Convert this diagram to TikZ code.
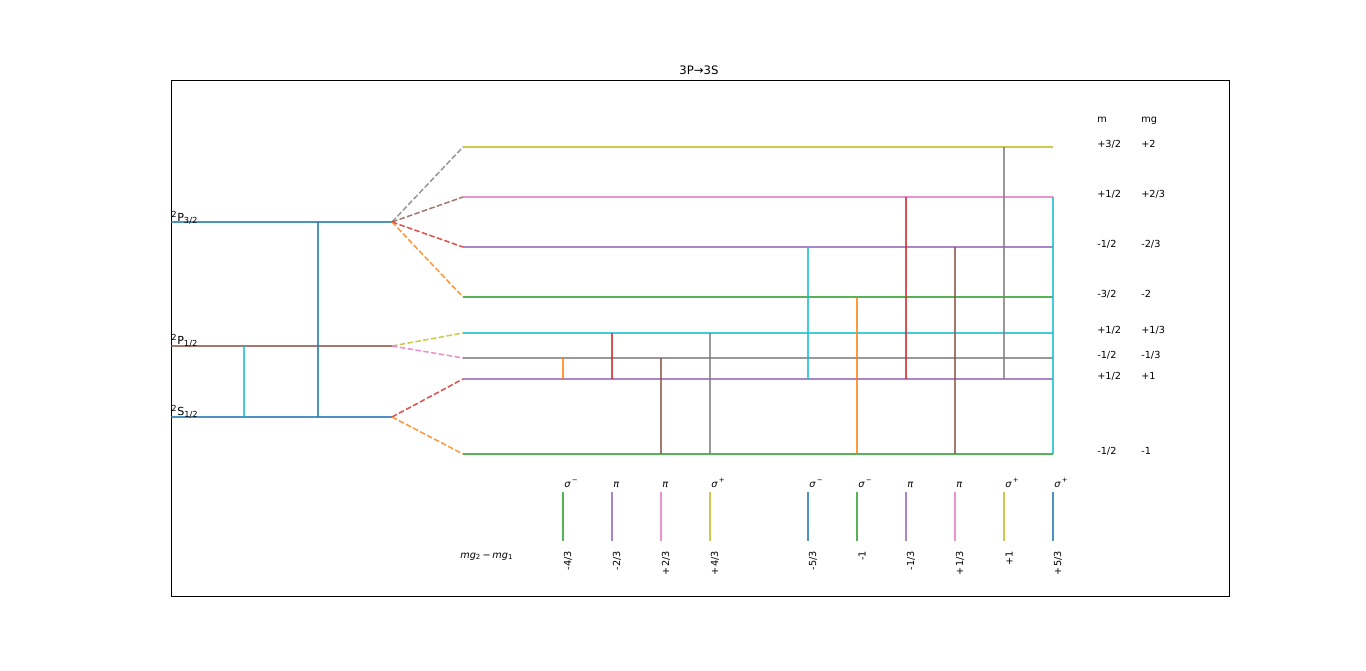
\documentclass[tikz,border=0pt]{standalone}
\usepackage{fontspec}
\setmainfont{DejaVu Sans}
\usepackage{xcolor}
\definecolor{tabblue}{HTML}{1F77B4}
\definecolor{taborange}{HTML}{FF7F0E}
\definecolor{tabgreen}{HTML}{2CA02C}
\definecolor{tabred}{HTML}{D62728}
\definecolor{tabpurple}{HTML}{9467BD}
\definecolor{tabbrown}{HTML}{8C564B}
\definecolor{tabpink}{HTML}{E377C2}
\definecolor{tabgray}{HTML}{7F7F7F}
\definecolor{tabolive}{HTML}{BCBD22}
\definecolor{tabcyan}{HTML}{17BECF}
\usepackage{tikz}

\begin{document}
\begin{tikzpicture}[x=0.72pt,y=-0.72pt,
level/.style={line width=1.1pt,draw opacity=.8},
split/.style={line width=1.1pt,draw opacity=.8,dash pattern=on 4pt off 1.7pt},
trans/.style={line width=1.1pt,draw opacity=.8},
lab/.style={font=\fontsize{7}{8}\selectfont,inner sep=0pt,anchor=base west},
vlab/.style={font=\fontsize{7}{8}\selectfont,inner sep=0pt,rotate=90,anchor=east},
term/.style={font=\fontsize{8}{9}\selectfont,inner sep=0pt,anchor=base west}]
\useasboundingbox (0,0) rectangle (1366,670);
\draw[line width=0.55pt] (171,80) rectangle (1229,596);
\node[font=\fontsize{8.4}{10}\selectfont,inner sep=0pt,anchor=base] (title) at (699,74) {3P→3S};
% fine structure levels
\coordinate (P32a) at (171,222); \coordinate (P32b) at (392,222);
\coordinate (P12a) at (171,346); \coordinate (P12b) at (392,346);
\coordinate (S12a) at (171,417); \coordinate (S12b) at (392,417);
\coordinate (k1) at (318,222); \coordinate (k2) at (318,417);
\coordinate (k3) at (244,346); \coordinate (k4) at (244,417);
\draw[level,tabblue] (P32a)--(P32b);
\draw[level,tabbrown] (P12a)--(P12b);
\draw[level,tabblue] (S12a)--(S12b);
\draw[trans,tabblue] (k1)--(k2);
\draw[trans,tabcyan] (k3)--(k4);
\node[term] (tP32) at (171,221) {\textsuperscript{2}P\textsubscript{3/2}};
\node[term] (tP12) at (171,344.5) {\textsuperscript{2}P\textsubscript{1/2}};
\node[term] (tS12) at (171,415.5) {\textsuperscript{2}S\textsubscript{1/2}};
% Zeeman sublevels
\foreach \n/\y/\c/\m/\g in {1/147/tabolive/{+3/2}/{+2},2/197/tabpink/{+1/2}/{+2/3},
  3/247/tabpurple/{-1/2}/{-2/3},4/297/tabgreen/{-3/2}/{-2},5/333/tabcyan/{+1/2}/{+1/3},
  6/358/tabgray/{-1/2}/{-1/3},7/379/tabpurple/{+1/2}/{+1},8/454/tabgreen/{-1/2}/{-1}}{
  \coordinate (w\n) at (463,\y); \coordinate (e\n) at (1053,\y);
  \draw[level,\c] (w\n)--(e\n);
  \node[lab] (m\n) at (1097,\y) {\m};
  \node[lab] (g\n) at (1141,\y) {\g};
}
\node[lab] (mhead) at (1097,122) {m};
\node[lab] (ghead) at (1141,122) {mg};
\draw[split,tabgray] (P32b)--(w1);
\draw[split,tabbrown] (P32b)--(w2);
\draw[split,tabred] (P32b)--(w3);
\draw[split,taborange] (P32b)--(w4);
\draw[split,tabolive] (P12b)--(w5);
\draw[split,tabpink] (P12b)--(w6);
\draw[split,tabred] (S12b)--(w7);
\draw[split,taborange] (S12b)--(w8);
% spectrum sticks
\foreach \i/\x/\c/\p/\v in {1/563/tabgreen/{\textit{σ}\textsuperscript{\,−}}/{-4/3},
  2/612/tabpurple/{\textit{π}}/{-2/3},3/661/tabpink/{\textit{π}}/{+2/3},
  4/710/tabolive/{\textit{σ}\textsuperscript{\,+}}/{+4/3},5/808/tabblue/{\textit{σ}\textsuperscript{\,−}}/{-5/3},
  6/857/tabgreen/{\textit{σ}\textsuperscript{\,−}}/{-1},7/906/tabpurple/{\textit{π}}/{-1/3},
  8/955/tabpink/{\textit{π}}/{+1/3},9/1004/tabolive/{\textit{σ}\textsuperscript{\,+}}/{+1},
  10/1053/tabblue/{\textit{σ}\textsuperscript{\,+}}/{+5/3}}{
  \coordinate (c\i) at (\x,492); \coordinate (d\i) at (\x,541);
  \draw[trans,\c] (c\i)--(d\i);
  \node[lab] (p\i) at (\x+1,487) {\p};
  \node[vlab] (v\i) at (\x+5,551) {\v};
}
\node[lab] (diff) at (460,558) {\textit{mg}\textsubscript{2}\,−\,\textit{mg}\textsubscript{1}};
% transitions
\foreach \i/\a/\b/\c in {1/6/7/taborange,2/5/7/tabred,3/6/8/tabbrown,4/5/8/tabgray,
  5/3/7/tabcyan,6/4/8/taborange,7/2/7/tabred,8/3/8/tabbrown,9/1/7/tabgray,10/2/8/tabcyan}{
  \draw[trans,\c] (c\i |- w\a)--(c\i |- w\b);
}
\end{tikzpicture}
\end{document}
